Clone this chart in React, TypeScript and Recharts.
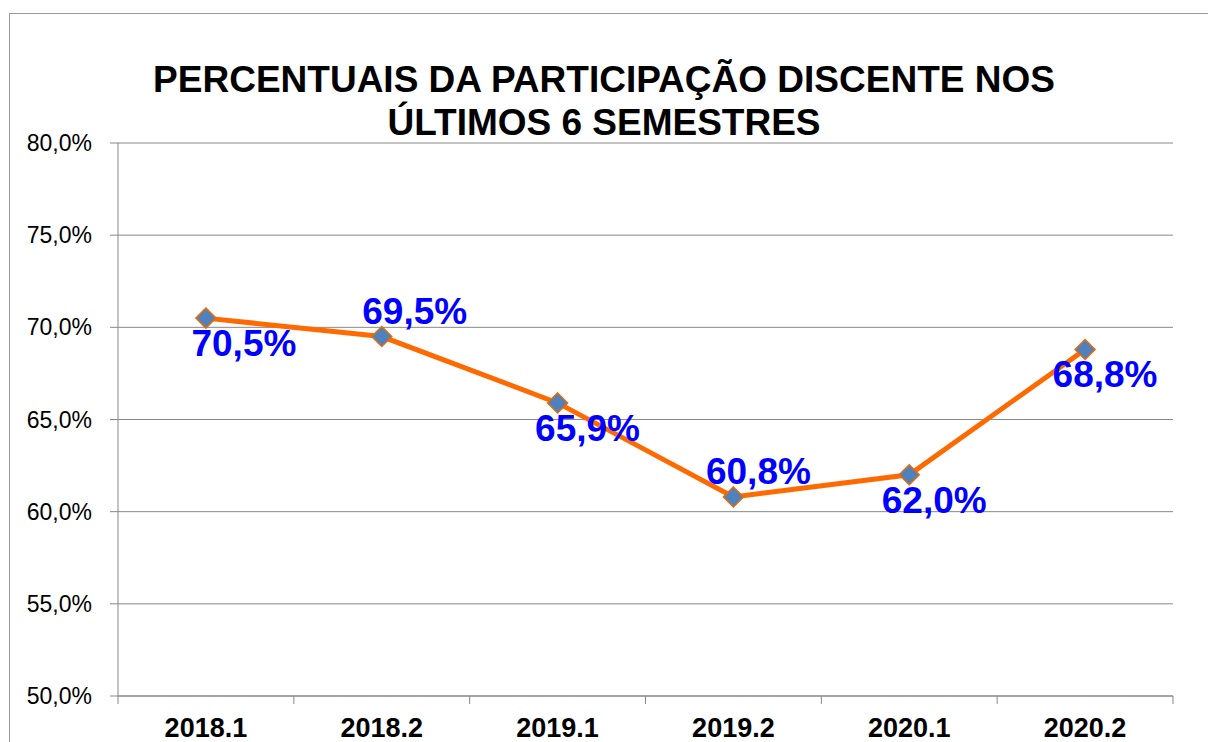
import React from 'react';
import { LineChart, Line, XAxis, YAxis, CartesianGrid } from 'recharts';

const semesters = ['2018.1', '2018.2', '2019.1', '2019.2', '2020.1', '2020.2'];
const participation = [70.5, 69.5, 65.9, 60.8, 62.0, 68.8];
const yTicks = [50, 55, 60, 65, 70, 75, 80];

// label placement per point (styling only)
const labelSide = ['below', 'above', 'below', 'above', 'below', 'below'];
const labelShift = [38, 33, 30, 25, 25, 20];

const fmt = (v: number) => `${v.toFixed(1).replace('.', ',')}%`;

const data = semesters.map((s, i) => ({ name: s, value: participation[i] }));

const PLOT_LEFT = 118;
const PLOT_RIGHT = 1173;
const HALF_BAND = (PLOT_RIGHT - PLOT_LEFT) / semesters.length / 2;
const FONT = "'Liberation Sans', Arial, sans-serif";

const XTick = (props: any) => {
  const { x, payload, index } = props;
  const tickTop = 696;
  return (
    <g>
      <line x1={x - HALF_BAND} x2={x - HALF_BAND} y1={tickTop} y2={tickTop + 8} stroke="#888" />
      {index === semesters.length - 1 && (
        <line x1={x + HALF_BAND} x2={x + HALF_BAND} y1={tickTop} y2={tickTop + 8} stroke="#888" />
      )}
      <text x={x} y={737} textAnchor="middle" fontSize={27} fontWeight="bold" fill="#000" fontFamily={FONT}>
        {payload.value}
      </text>
    </g>
  );
};

const Diamond = (props: any) => {
  const { cx, cy } = props;
  const r = 10;
  return (
    <polygon
      points={`${cx},${cy - r} ${cx + r},${cy} ${cx},${cy + r} ${cx - r},${cy}`}
      fill="#4F81BD"
      stroke="#E46C0A"
      strokeWidth={1.5}
    />
  );
};

const ValueLabel = (props: any) => {
  const { x, y, value, index } = props;
  const below = labelSide[index] === 'below';
  return (
    <text
      x={x + labelShift[index]}
      y={below ? y + 38 : y - 13}
      textAnchor="middle"
      fontSize={37}
      fontWeight="bold"
      fill="#0000FF"
      fontFamily={FONT}
    >
      {fmt(value)}
    </text>
  );
};

export default function App() {
  return (
    <div style={{ position: 'absolute', left: 0, top: 0, width: 1208, height: 742, overflow: 'hidden', background: '#fff' }}>
      <div style={{ position: 'absolute', left: 9, top: 13, width: 1400, height: 900, border: '1px solid #999', boxSizing: 'border-box' }} />
      <div style={{ position: 'absolute', left: 0, top: 0, width: 1208, textAlign: 'center', fontFamily: FONT, fontWeight: 'bold', fontSize: 37, lineHeight: '43px', color: '#000', paddingTop: 58 }}>
        PERCENTUAIS DA PARTICIPAÇÃO DISCENTE NOS
        <br />
        ÚLTIMOS 6 SEMESTRES
      </div>
      <LineChart width={1208} height={742} data={data} margin={{ top: 143, right: 35, bottom: 0, left: 10 }} style={{ position: 'absolute', left: 0, top: 0 }}>
        <CartesianGrid vertical={false} stroke="#888" />
        <XAxis dataKey="name" height={46} tickLine={false} axisLine={{ stroke: '#888' }} tick={<XTick />} interval={0} padding={{ left: HALF_BAND, right: HALF_BAND }} scale="point" />
        <YAxis
          width={108}
          domain={[50, 80]}
          ticks={yTicks}
          tickFormatter={fmt}
          tickSize={8}
          tickMargin={18}
          axisLine={{ stroke: '#888' }}
          tickLine={{ stroke: '#888' }}
          tick={{ fontSize: 23, fill: '#000', fontFamily: FONT }}
        />
        <Line
          type="linear"
          dataKey="value"
          stroke="#FF6A00"
          strokeWidth={5}
          dot={<Diamond />}
          activeDot={false}
          label={<ValueLabel />}
          isAnimationActive={false}
        />
      </LineChart>
    </div>
  );
}
